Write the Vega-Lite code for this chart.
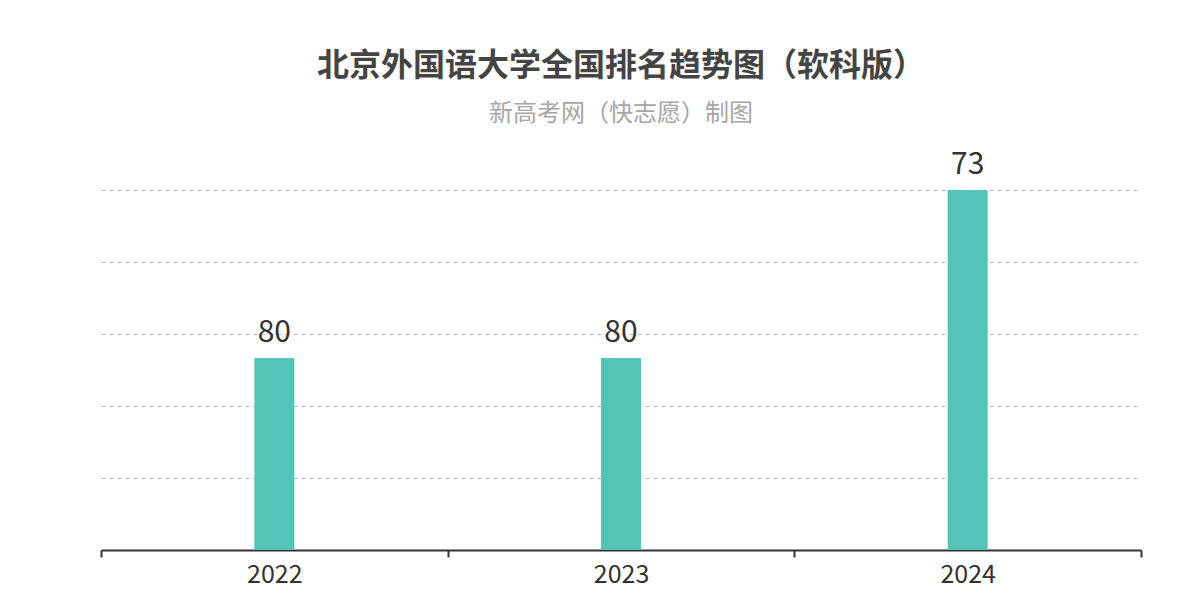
{
  "$schema": "https://vega.github.io/schema/vega-lite/v6.json",
  "width": 1040,
  "height": 360,
  "autosize": {"type": "none"},
  "padding": {"left": 101, "top": 190, "right": 59, "bottom": 50},
  "background": "white",
  "title": {
    "text": "北京外国语大学全国排名趋势图（软科版）",
    "subtitle": "新高考网（快志愿）制图",
    "anchor": "middle",
    "frame": "group",
    "font": "Noto Sans CJK SC",
    "fontSize": 32,
    "fontWeight": "bold",
    "color": "#444444",
    "subtitleFont": "Noto Sans CJK SC",
    "subtitleFontSize": 24,
    "subtitleColor": "#a6a6a6",
    "subtitlePadding": 19,
    "offset": 23
  },
  "config": {"view": {"stroke": null}},
  "data": {
    "values": [
      {"year": "2022", "rank": 80},
      {"year": "2023", "rank": 80},
      {"year": "2024", "rank": 73}
    ]
  },
  "encoding": {
    "x": {
      "field": "year",
      "type": "ordinal",
      "scale": {"paddingInner": 0, "paddingOuter": 0},
      "axis": {
        "title": null,
        "labelAngle": 0,
        "labelFont": "Noto Sans CJK SC",
        "labelFontSize": 25,
        "labelColor": "#333333",
        "labelPadding": 5,
        "domainColor": "#333333",
        "domainWidth": 2,
        "tickColor": "#333333",
        "tickWidth": 2,
        "tickSize": 7,
        "tickBand": "extent",
        "grid": false
      }
    },
    "y": {
      "field": "rank",
      "type": "quantitative",
      "scale": {"domain": [73, 88], "reverse": true, "zero": false, "nice": false},
      "axis": {
        "title": null,
        "labels": false,
        "ticks": false,
        "domain": false,
        "values": [73, 76, 79, 82, 85],
        "grid": true,
        "gridColor": "#bdbdbd",
        "gridDash": [4, 4],
        "gridWidth": 1
      }
    }
  },
  "layer": [
    {
      "mark": {"type": "bar", "color": "#55c4b8", "size": 40},
      "encoding": {"y2": {"datum": 88}}
    },
    {
      "mark": {"type": "text", "baseline": "bottom", "dy": -10, "font": "Noto Sans CJK SC", "fontSize": 30, "color": "#333333"},
      "encoding": {"text": {"field": "rank", "type": "quantitative"}}
    }
  ]
}
